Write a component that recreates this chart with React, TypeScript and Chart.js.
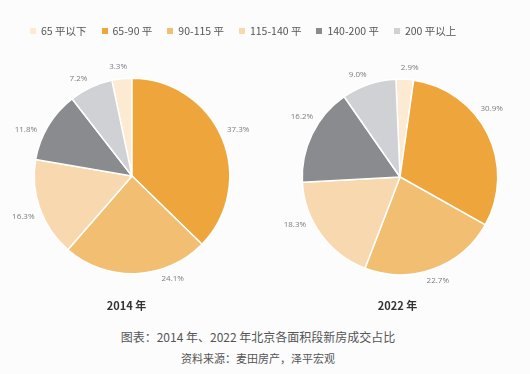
import React, { useEffect, useRef } from "react";
import { Chart, registerables } from "chart.js";

Chart.register(...registerables);

const categories = ["65 平以下", "65-90 平", "90-115 平", "115-140 平", "140-200 平", "200 平以上"];
const values2014 = [3.3, 37.3, 24.1, 16.3, 11.8, 7.2];
const values2022 = [2.9, 30.9, 22.7, 18.3, 16.2, 9.0];
const years = ["2014 年", "2022 年"];
const title = "图表：2014 年、2022 年北京各面积段新房成交占比";
const source = "资料来源：麦田房产，泽平宏观";

const colors = ["#FCEAD3", "#EEA63C", "#F2BE72", "#F8D8AE", "#898B8F", "#CFD1D5"];
// start angle (deg, clockwise from top) of first slice
const rotations = [-11.9, -2.4];
// label angle nudges (deg) per slice
const labelShift2014 = [-1, -2, -18, -2, -6, -3];
const labelShift2022 = [2, -12, 1, 10, 7, -3];

const FONT = '"Noto Sans CJK SC", "Noto Sans", sans-serif';

function makeLabelPlugin(shifts: number[]) {
  return {
    id: "outLabels",
    afterDatasetsDraw(chart: any) {
      const ctx = chart.ctx;
      const meta = chart.getDatasetMeta(0);
      const data = chart.data.datasets[0].data as number[];
      ctx.save();
      ctx.font = `8px "Open Sans", "DejaVu Sans", sans-serif`;
      ctx.fillStyle = "#7d7d7d";
      ctx.textAlign = "center";
      ctx.textBaseline = "middle";
      meta.data.forEach((arc: any, i: number) => {
        const p = arc.getProps(["x", "y", "startAngle", "endAngle", "outerRadius"], true);
        const mid = (p.startAngle + p.endAngle) / 2 + (shifts[i] * Math.PI) / 180;
        const txt = data[i].toFixed(1) + "%";
        const w = ctx.measureText(txt).width;
        const h = 8;
        const c = Math.cos(mid);
        const s = Math.sin(mid);
        const r = p.outerRadius + 8;
        const x = p.x + r * c + (w / 2) * c;
        const y = p.y + r * s + (h / 2) * s;
        ctx.fillText(txt, x, y);
      });
      ctx.restore();
    },
  };
}

function Pie({ values, rotation, shifts, cx, cy }: { values: number[]; rotation: number; shifts: number[]; cx: number; cy: number }) {
  const ref = useRef<HTMLCanvasElement | null>(null);
  const size = 290;
  const R = 98.5;
  useEffect(() => {
    if (!ref.current) return;
    const pad = size / 2 - R;
    const chart = new Chart(ref.current, {
      type: "pie",
      data: {
        labels: categories,
        datasets: [
          {
            data: values,
            backgroundColor: colors,
            borderColor: "#ffffff",
            borderWidth: 1.5,
          },
        ],
      },
      options: {
        animation: false,
        responsive: false,
        rotation: rotation,
        layout: { padding: pad },
        plugins: {
          legend: { display: false },
          tooltip: { enabled: false },
        },
      },
      plugins: [makeLabelPlugin(shifts)],
    });
    return () => chart.destroy();
  }, []);
  return (
    <canvas
      ref={ref}
      width={size}
      height={size}
      style={{ position: "absolute", left: cx - size / 2, top: cy - size / 2, width: size, height: size }}
    />
  );
}

export default function App() {
  return (
    <div
      style={{
        position: "fixed",
        left: 0,
        top: 0,
        width: 530,
        height: 374,
        background: "#fcfcfd",
        overflow: "hidden",
        fontFamily: FONT,
      }}
    >
      <Pie values={values2014} rotation={rotations[0]} shifts={labelShift2014} cx={131.5} cy={175.5} />
      <Pie values={values2022} rotation={rotations[1]} shifts={labelShift2022} cx={399.5} cy={176.5} />
      <div
        style={{
          position: "absolute",
          top: 23,
          left: 30,
          display: "flex",
          justifyContent: "flex-start",
          alignItems: "center",
          fontSize: 10.5,
          color: "#555",
          whiteSpace: "nowrap",
        }}
      >
        {categories.map((c, i) => (
          <div key={c} style={{ display: "flex", alignItems: "center", marginLeft: i === 0 ? 0 : 15 }}>
            <span style={{ display: "inline-block", width: 6, height: 6, background: colors[i], marginRight: 5 }} />
            <span>{c}</span>
          </div>
        ))}
      </div>
      <div style={{ position: "absolute", top: 297, left: 76.5, width: 100, textAlign: "center", fontSize: 11, fontWeight: 700, color: "#333" }}>
        {years[0]}
      </div>
      <div style={{ position: "absolute", top: 297, left: 347.5, width: 100, textAlign: "center", fontSize: 11, fontWeight: 700, color: "#333" }}>
        {years[1]}
      </div>
      <div style={{ position: "absolute", top: 328, left: -7, width: 530, textAlign: "center", fontSize: 12, color: "#555" }}>
        {title}
      </div>
      <div style={{ position: "absolute", top: 350, left: -7, width: 530, textAlign: "center", fontSize: 11, color: "#555" }}>
        {source}
      </div>
    </div>
  );
}
